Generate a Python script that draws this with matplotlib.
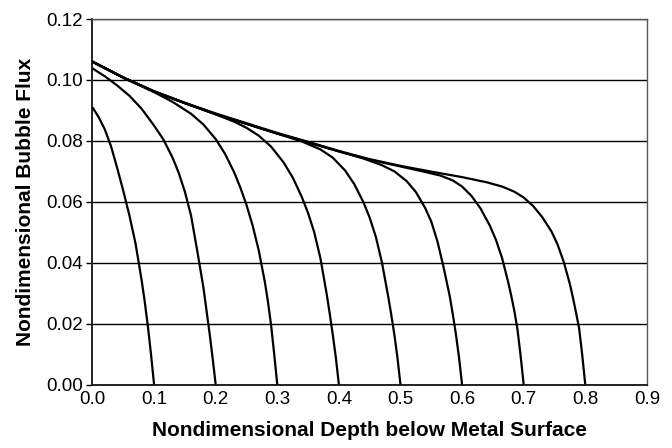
import matplotlib.pyplot as plt

plt.rcParams['font.family'] = ['Liberation Sans', 'DejaVu Sans']

# curves: each one ends at its own depth (0.1 ... 0.8)
x_01 = [0, 0.01, 0.02, 0.03, 0.04, 0.05, 0.06, 0.07, 0.08, 0.085, 0.09, 0.095, 0.1]
y_01 = [0.091, 0.0878, 0.0838, 0.0783, 0.0712, 0.0636, 0.0555, 0.0462, 0.0340, 0.0270, 0.0190, 0.0100, 0.0]

x_02 = [0, 0.02, 0.04, 0.06, 0.08, 0.10, 0.115, 0.13, 0.14, 0.15, 0.16, 0.17, 0.18, 0.19, 0.195, 0.2]
y_02 = [0.1038, 0.1012, 0.0982, 0.0948, 0.0905, 0.0850, 0.0805, 0.0745, 0.0695, 0.0633, 0.0555, 0.0440, 0.0320, 0.0170, 0.0088, 0.0]

x_03 = [0, 0.05, 0.1, 0.13, 0.16, 0.18, 0.2, 0.215, 0.23, 0.24, 0.25, 0.26, 0.27, 0.28, 0.285, 0.29, 0.295, 0.3]
y_03 = [0.106, 0.1007, 0.0960, 0.0928, 0.0889, 0.0854, 0.0806, 0.0758, 0.0697, 0.0647, 0.0590, 0.0522, 0.0440, 0.0335, 0.0270, 0.0195, 0.0100, 0.0]

x_04 = [0, 0.05, 0.1, 0.15, 0.2, 0.23, 0.25, 0.27, 0.29, 0.31, 0.325, 0.34, 0.35, 0.36, 0.37, 0.38, 0.385, 0.39, 0.395, 0.4]
y_04 = [0.106, 0.1008, 0.0962, 0.0924, 0.0887, 0.0863, 0.0843, 0.0817, 0.0781, 0.0730, 0.0680, 0.0615, 0.0563, 0.0500, 0.0415, 0.0300, 0.0235, 0.0165, 0.0090, 0.0]

x_05 = [0, 0.05, 0.1, 0.15, 0.2, 0.25, 0.3, 0.34, 0.37, 0.39, 0.41, 0.425, 0.44, 0.45, 0.46, 0.47, 0.48, 0.485, 0.49, 0.495, 0.5]
y_05 = [0.106, 0.1008, 0.0962, 0.0924, 0.0888, 0.0856, 0.0824, 0.0798, 0.0772, 0.0745, 0.0703, 0.0658, 0.0598, 0.0548, 0.0485, 0.0400, 0.0290, 0.0230, 0.0165, 0.0090, 0.0]

x_06 = [0, 0.05, 0.1, 0.15, 0.2, 0.25, 0.3, 0.35, 0.4, 0.44, 0.47, 0.49, 0.51, 0.525, 0.54, 0.55, 0.56, 0.57, 0.58, 0.585, 0.59, 0.595, 0.6]
y_06 = [0.106, 0.1008, 0.0962, 0.0924, 0.0888, 0.0856, 0.0824, 0.0795, 0.0766, 0.0742, 0.0720, 0.0700, 0.0668, 0.0632, 0.0580, 0.0535, 0.0470, 0.0385, 0.0290, 0.0230, 0.0165, 0.0090, 0.0]

x_07 = [0, 0.05, 0.1, 0.15, 0.2, 0.25, 0.3, 0.35, 0.4, 0.45, 0.5, 0.54, 0.565, 0.585, 0.6, 0.615, 0.63, 0.645, 0.655, 0.665, 0.675, 0.68, 0.685, 0.69, 0.695, 0.7]
y_07 = [0.106, 0.1008, 0.0962, 0.0924, 0.0888, 0.0856, 0.0824, 0.0795, 0.0765, 0.0738, 0.0716, 0.0698, 0.0686, 0.0670, 0.0650, 0.0620, 0.0578, 0.0522, 0.0475, 0.0415, 0.0335, 0.0290, 0.0240, 0.0180, 0.0095, 0.0]

x_08 = [0, 0.05, 0.1, 0.15, 0.2, 0.25, 0.3, 0.35, 0.4, 0.45, 0.5, 0.55, 0.6, 0.64, 0.665, 0.685, 0.7, 0.715, 0.73, 0.745, 0.755, 0.765, 0.775, 0.78, 0.785, 0.79, 0.795, 0.8]
y_08 = [0.106, 0.1008, 0.0963, 0.0925, 0.089, 0.0858, 0.0826, 0.0797, 0.0767, 0.0740, 0.0718, 0.0699, 0.0681, 0.0664, 0.0650, 0.0633, 0.0614, 0.0587, 0.0550, 0.0503, 0.0460, 0.0403, 0.0330, 0.0285, 0.0236, 0.0185, 0.0098, 0.0]

curvas = [(x_01, y_01), (x_02, y_02), (x_03, y_03), (x_04, y_04),
          (x_05, y_05), (x_06, y_06), (x_07, y_07), (x_08, y_08)]

fig = plt.figure(figsize=(6.72, 4.48), dpi=100)
ax = fig.add_axes([0.1376, 0.1417, 0.825, 0.8158])

for xs, ys in curvas:
    ax.plot(xs, ys, color='black', linewidth=1.6, solid_joinstyle='round',
            solid_capstyle='butt', zorder=3)

ax.set_xlim(0, 0.9)
ax.set_ylim(0, 0.12)
ax.set_xticks([0, 0.1, 0.2, 0.3, 0.4, 0.5, 0.6, 0.7, 0.8, 0.9])
ax.set_yticks([0, 0.02, 0.04, 0.06, 0.08, 0.10, 0.12])
ax.xaxis.set_major_formatter(plt.FormatStrFormatter('%.1f'))
ax.yaxis.set_major_formatter(plt.FormatStrFormatter('%.2f'))
ax.yaxis.grid(True, color='black', linewidth=1)
ax.tick_params(axis='x', length=0, labelsize=13.5, pad=5)
ax.tick_params(axis='y', length=4, width=1, labelsize=13.5, pad=3)

for lado in ['left', 'bottom']:
    ax.spines[lado].set_color('#222222')
    ax.spines[lado].set_linewidth(1.4)
for lado in ['top', 'right']:
    ax.spines[lado].set_color('#555555')
    ax.spines[lado].set_linewidth(1)

ax.set_xlabel('Nondimensional Depth below Metal Surface', fontsize=15, fontweight='bold', labelpad=9)
ax.set_ylabel('Nondimensional Bubble Flux', fontsize=15, fontweight='bold', labelpad=8)

plt.savefig('out.png', dpi=100)
